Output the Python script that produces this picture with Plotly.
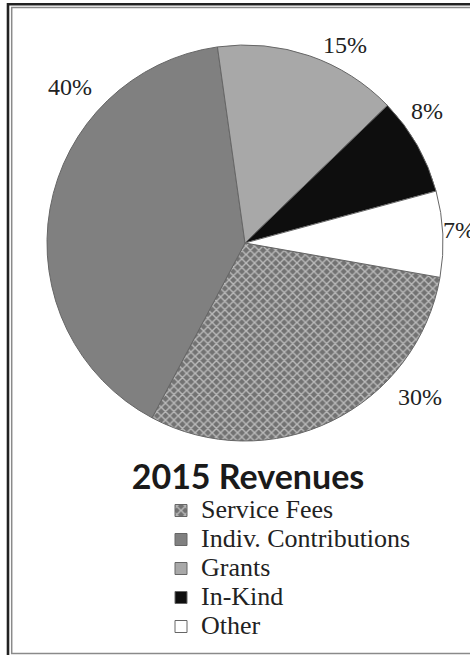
import plotly.graph_objects as go

# ---- data ----
categories = ["Service Fees", "Indiv. Contributions", "Grants", "In-Kind", "Other"]
values = [30, 40, 15, 8, 7]
title_text = "2015 Revenues"

# ---- style ----
W, H = 470, 655
slice_colors = ["#727272", "#808080", "#a8a8a8", "#0e0e0e", "#ffffff"]
pattern_shapes = ["x", "", "", "", ""]
# label anchor positions (pixels) for each slice's percent label
label_px = [(420, 397), (70, 87), (345, 45), (427, 111), (441, 230)]
label_anchor = ["center", "center", "center", "center", "left"]

def px(x):
    return x / W

def py(y):
    return 1 - y / H

cx, cy, r = 245, 243, 198

legend_labels = [f'<span style="font-size:26px">{c}</span>' for c in categories]

fig = go.Figure()
fig.add_trace(go.Pie(
    labels=legend_labels,
    values=values,
    sort=False,
    direction="clockwise",
    rotation=100,
    textinfo="none",
    hovertext=categories,
    hoverinfo="text+percent",
    domain=dict(x=[px(cx - r), px(cx + r)], y=[py(cy + r), py(cy - r)]),
    marker=dict(
        colors=slice_colors,
        line=dict(color="#666666", width=1),
        pattern=dict(shape=pattern_shapes, fillmode="overlay",
                     fgcolor="#ffffff", size=6, solidity=0.42),
    ),
))

total = sum(values)
annotations = []
for v, (lx, ly), anc in zip(values, label_px, label_anchor):
    annotations.append(dict(
        text=f"{round(v / total * 100)}%",
        x=px(lx), y=py(ly), xref="paper", yref="paper",
        xanchor=anc, yanchor="middle", showarrow=False,
        font=dict(family="Liberation Serif", size=24, color="#222222"),
    ))

shapes = [
    dict(type="rect", xref="paper", yref="paper",
         x0=px(8), y0=py(4.2), x1=px(490), y1=py(680),
         line=dict(color="#222222", width=2.6), fillcolor="rgba(0,0,0,0)"),
    dict(type="rect", xref="paper", yref="paper",
         x0=px(11.7), y0=py(7.5), x1=px(490), y1=py(653.5),
         line=dict(color="#8a8a8a", width=1.5), fillcolor="rgba(0,0,0,0)"),
]

fig.update_layout(
    width=W, height=H, autosize=False,
    margin=dict(l=0, r=0, t=0, b=0),
    paper_bgcolor="white", plot_bgcolor="white",
    title=dict(text=f"<b>{title_text}</b>", x=px(248), y=py(477),
               xref="paper", yref="paper", xanchor="center", yanchor="middle",
               font=dict(family="Lato, Open Sans, sans-serif", size=34,
                         weight=900, color="#1a1a1a")),
    showlegend=True,
    legend=dict(x=px(161), y=py(491), xanchor="left", yanchor="top",
                font=dict(family="Liberation Serif", size=20, color="#222222"),
                bgcolor="rgba(0,0,0,0)", itemclick=False),
    annotations=annotations,
    shapes=shapes,
)

fig.write_html("out.html", config={"displayModeBar": False},
               post_script="document.body.style.margin='0';")
